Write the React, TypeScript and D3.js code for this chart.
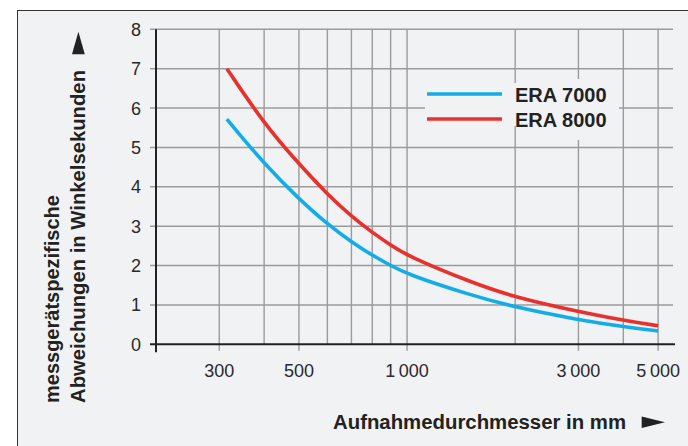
import React from "react";
import * as d3 from "d3";

const diameters = [315, 400, 500, 600, 700, 800, 900, 1000, 1500, 2000, 3000, 4000, 5000];
const era7000 = [5.72, 4.58, 3.69, 3.05, 2.6, 2.26, 2.0, 1.78, 1.25, 0.94, 0.62, 0.45, 0.34];
const era8000 = [7.0, 5.6, 4.58, 3.81, 3.25, 2.84, 2.52, 2.25, 1.58, 1.19, 0.83, 0.61, 0.47];
const seriesNames = ["ERA 7000", "ERA 8000"];
const yTicks = [0, 1, 2, 3, 4, 5, 6, 7, 8];
const xGrid = [300, 400, 500, 600, 700, 800, 900, 1000, 2000, 3000, 4000, 5000];
const xLabeled = [300, 500, 1000, 3000, 5000];
const xLabels = ["300", "500", "1\u2009000", "3\u2009000", "5\u2009000"];
const yTitleLines = ["messgerätspezifische", "Abweichungen in Winkelsekunden"];
const xTitle = "Aufnahmedurchmesser in mm";

const W = 688;
const H = 446;
const FONT = "'Liberation Sans', Arial, Helvetica, sans-serif";
const BLUE = "#12ade9";
const RED = "#e8302c";
const GRID = "#9b9b9b";
const AXIS = "#222";
const BG = "#f1f2f4";

export default function App() {
  const x = d3.scaleLog().domain([200, 5500]).range([156, 673]);
  const y = d3.scaleLinear().domain([0, 8]).range([344.3, 29.3]);
  const line = d3
    .line<number>()
    .x((_, i) => x(diameters[i]))
    .y((v) => y(v))
    .curve(d3.curveBasis);

  const x0 = x.range()[0];
  const x1 = x.range()[1];

  return (
    <svg
      width={W}
      height={H}
      style={{ position: "absolute", left: 0, top: 0, display: "block" }}
      fontFamily={FONT}
    >
      <rect x={0} y={0} width={W} height={H} fill="#fff" />
      <rect x={17.5} y={10.5} width={W + 10} height={H + 10} fill={BG} stroke="#333" strokeWidth={1} />

      {/* horizontal gridlines and y ticks */}
      {yTicks.map((t) => (
        <line
          key={"h" + t}
          x1={x0 - 6}
          x2={x1}
          y1={y(t)}
          y2={y(t)}
          stroke={t === 0 ? "none" : GRID}
          strokeWidth={1.4}
        />
      ))}
      {/* vertical gridlines */}
      {xGrid.map((d) => (
        <line
          key={"v" + d}
          x1={x(d)}
          x2={x(d)}
          y1={y(8)}
          y2={xLabeled.includes(d) ? y(0) + 6.5 : y(0)}
          stroke={GRID}
          strokeWidth={1.4}
        />
      ))}

      {/* legend knockouts */}
      <rect x={425} y={83} width={194} height={43} fill={BG} />
      <rect x={570} y={79} width={14} height={61} fill={BG} />

      {/* axes */}
      <line x1={x0 - 6} x2={x1 + 2} y1={y(0)} y2={y(0)} stroke={AXIS} strokeWidth={2} />
      <line x1={x0} x2={x0} y1={y(8)} y2={y(0) + 8} stroke={AXIS} strokeWidth={2} />

      {/* y tick labels */}
      {yTicks.map((t) => (
        <text
          key={"yl" + t}
          x={141}
          y={y(t)}
          dy="0.36em"
          textAnchor="end"
          fontSize={18}
          fill="#2a2a2a"
        >
          {t}
        </text>
      ))}
      {/* x tick labels */}
      {xLabeled.map((d, i) => (
        <text key={"xl" + d} x={x(d)} y={376.7} textAnchor="middle" fontSize={18} fill="#2a2a2a">
          {xLabels[i]}
        </text>
      ))}

      {/* curves */}
      <path d={line(era7000) || ""} fill="none" stroke={BLUE} strokeWidth={3.6} strokeLinejoin="round" />
      <path d={line(era8000) || ""} fill="none" stroke={RED} strokeWidth={3.6} strokeLinejoin="round" />

      {/* legend */}
      <line x1={427} x2={502} y1={94} y2={94} stroke={BLUE} strokeWidth={3.6} />
      <line x1={427} x2={502} y1={119} y2={119} stroke={RED} strokeWidth={3.6} />
      <text x={515} y={102} fontSize={20} fontWeight="bold" fill="#222">
        {seriesNames[0]}
      </text>
      <text x={515} y={127} fontSize={20} fontWeight="bold" fill="#222">
        {seriesNames[1]}
      </text>

      {/* x title + arrow */}
      <text x={333} y={429} fontSize={20} fontWeight="bold" fill="#222" textLength={293} lengthAdjust="spacingAndGlyphs">
        {xTitle}
      </text>
      <path d="M641.7,416.5 L665,422.3 L641.7,428 Z" fill="#222" />

      {/* y title + arrow */}
      <g transform="translate(0,403) rotate(-90)">
        <text x={0} y={58.5} fontSize={20} fontWeight="bold" fill="#222">
          {yTitleLines[0]}
        </text>
        <text x={0} y={85} fontSize={20} fontWeight="bold" fill="#222" textLength={333} lengthAdjust="spacingAndGlyphs">
          {yTitleLines[1]}
        </text>
      </g>
      <path d="M72,54.3 L78.4,31.7 L84.8,54.3 Z" fill="#222" />
    </svg>
  );
}
